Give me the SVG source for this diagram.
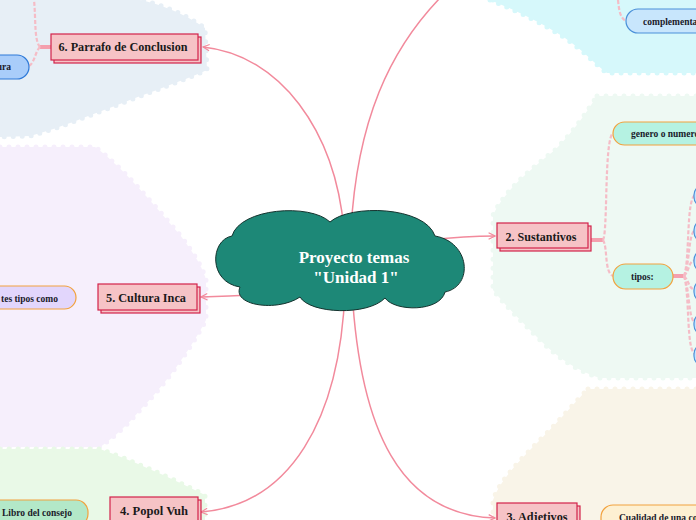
<svg xmlns="http://www.w3.org/2000/svg" width="696" height="520" viewBox="0 0 696 520">
<style>
.blob{stroke-width:5;stroke-dasharray:0 9;stroke-linecap:round;stroke-linejoin:round}
.main rect{fill:#f6c3c6;stroke:#d3224a;stroke-width:1.2}
.main text{font-family:"Liberation Serif","DejaVu Serif",serif;font-weight:bold;font-size:13px;fill:#1a1a1a;text-anchor:middle}
.pill{stroke-width:1.2}
.sub{font-family:"Liberation Serif","DejaVu Serif",serif;font-weight:bold;font-size:9.5px;fill:#1a1a2a}
.con{fill:none;stroke:#f28a9c;stroke-width:1.5}
.stub{fill:none;stroke:#f4a0ae;stroke-width:4}
.dash{fill:none;stroke:#f5bcc6;stroke-width:2.2;stroke-dasharray:4 2}
.orange{stroke:#f2a23e}
</style>
<defs>
<marker id="arr" viewBox="0 0 10 10" refX="9" refY="5" markerWidth="8" markerHeight="8" markerUnits="userSpaceOnUse" orient="auto">
<path d="M1,1 L9,5 L1,9" fill="none" stroke="#f28a9c" stroke-width="1.5"/>
</marker>
</defs>

<g id="backgrounds">
<path class="blob" fill="#e7eff6" stroke="#e7eff6" d="M0,0 L140,0 C160,4 185,14 205,28 L207,70 C180,82 150,92 120,104 C90,115 60,128 30,136 L0,137 Z"/>
<path class="blob" fill="#d6f8fb" stroke="#d6f8fb" d="M490,0 C520,12 545,25 565,38 C585,52 595,64 607,73 L696,73 L696,0 Z"/>
<path class="blob" fill="#eef9f3" stroke="#eef9f3" d="M597,96 L696,96 L696,378 L600,378 C580,372 560,360 540,340 C520,320 505,305 493,290 L493,215 C505,190 530,170 555,150 C575,130 588,110 597,96 Z"/>
<path class="blob" fill="#f9f4e8" stroke="#f9f4e8" d="M588,389 L696,389 L696,520 L493,520 L493,500 C500,480 520,460 540,440 C560,420 575,402 588,389 Z"/>
<path class="blob" fill="#f6effc" stroke="#f6effc" d="M0,147 L95,147 C120,165 150,200 180,235 C195,255 203,268 206,280 L206,320 C190,350 165,385 140,410 C125,428 110,440 100,447 L0,447 Z"/>
<path class="blob" fill="#e9f9e7" stroke="#e9f9e7" d="M0,449 L100,449 C130,460 165,475 205,495 L205,520 L0,520 Z"/>
</g>

<g id="connectors">
<path class="con" d="M344,230 C335,130 280,55 203,47" marker-end="url(#arr)"/>
<path class="con" d="M351,230 C357,120 390,50 440,-2"/>
<path class="con" d="M430,240 C465,236 480,236 495,236" marker-end="url(#arr)"/>
<path class="con" d="M290,293 C255,295 230,296 201,297" marker-end="url(#arr)"/>
<path class="con" d="M345,290 C340,420 290,505 201,512" marker-end="url(#arr)"/>
<path class="con" d="M352,290 C360,430 400,515 495,518" marker-end="url(#arr)"/>
<path class="stub" d="M51,47 L40,47"/>
<path class="dash" d="M40,47 C34,40 36,20 34,0"/>
<path class="dash" d="M40,47 C35,52 35,62 29,66"/>
<path class="dash" d="M618,0 C619,10 620,18 626,21"/>
<path class="stub" d="M591,240 L603,240"/>
<path class="dash" d="M603,240 C608,232 604,140 613,133"/>
<path class="dash" d="M603,240 C608,248 604,272 613,276"/>
<path class="stub" d="M673,276 L684,276"/>
<path class="dash" d="M684,276 C690,260 686,200 695,195"/>
<path class="dash" d="M684,276 C690,265 688,234 695,230"/>
<path class="dash" d="M684,276 C690,270 688,262 695,260"/>
<path class="dash" d="M684,276 C690,282 688,288 695,290"/>
<path class="dash" d="M684,276 C690,290 688,318 695,323"/>
<path class="dash" d="M684,276 C690,295 686,350 695,354"/>
</g>

<g id="center">
<path fill="#1d8877" stroke="#14332e" stroke-width="1" d="M232,236 C240,208 310,203 330,222 C350,204 425,206 435,236 C470,242 474,286 445,292 C440,312 395,312 385,298 C368,316 310,314 300,297 C278,312 232,306 240,287 C208,282 210,240 232,236 Z"/>
<text font-family="Liberation Serif,DejaVu Serif,serif" font-weight="bold" font-size="17" fill="#ffffff" text-anchor="middle" x="354" y="263">Proyecto temas</text>
<text font-family="Liberation Serif,DejaVu Serif,serif" font-weight="bold" font-size="17" fill="#ffffff" text-anchor="middle" x="356" y="283">"Unidad 1"</text>
</g>

<g id="n6" class="main">
<rect x="54" y="37" width="147" height="26"/>
<rect x="51" y="34" width="147" height="26"/>
<text x="123" y="51" textLength="129" lengthAdjust="spacingAndGlyphs">6. Parrafo de Conclusion</text>
</g>
<g id="n2" class="main">
<rect x="500" y="226" width="91" height="25"/>
<rect x="497" y="223" width="91" height="25"/>
<text x="541" y="241" textLength="71" lengthAdjust="spacingAndGlyphs">2. Sustantivos</text>
</g>
<g id="n5" class="main">
<rect x="101" y="287" width="99" height="26"/>
<rect x="98" y="284" width="99" height="26"/>
<text x="146" y="302" textLength="80" lengthAdjust="spacingAndGlyphs">5. Cultura Inca</text>
</g>
<g id="n4" class="main">
<rect x="113" y="500" width="88" height="26"/>
<rect x="110" y="497" width="88" height="26"/>
<text x="154" y="515" textLength="68" lengthAdjust="spacingAndGlyphs">4. Popol Vuh</text>
</g>
<g id="n3" class="main">
<rect x="500" y="506" width="80" height="26"/>
<rect x="497" y="503" width="80" height="26"/>
<text x="537" y="521" textLength="61" lengthAdjust="spacingAndGlyphs">3. Adjetivos</text>
</g>

<g id="s-complementa">
<rect class="pill" x="626" y="9" width="110" height="24" rx="12" fill="#c8e6fc" stroke="#4a90d9"/>
<text class="sub" x="643" y="25">complementa</text>
</g>
<g id="s-ura">
<rect class="pill" x="-80" y="55" width="109" height="24" rx="12" fill="#a9cdfa" stroke="#2f7ad8"/>
<text class="sub" x="11" y="70" text-anchor="end" fill="#16304a">ura</text>
</g>
<g id="s-genero">
<rect class="pill orange" x="613" y="122" width="120" height="23" rx="11.5" fill="#b5f2e2"/>
<text class="sub" x="631" y="137">genero o numero</text>
</g>
<g id="s-tipos">
<rect class="pill orange" x="613" y="264" width="60" height="25" rx="12.5" fill="#b5f2e2"/>
<text class="sub" x="631" y="280">tipos:</text>
</g>
<g id="s-tipos-items" fill="#c8e6fc" stroke="#4a90d9" stroke-width="1.2">
<rect x="694" y="185" width="20" height="22" rx="10"/>
<rect x="694" y="220" width="20" height="22" rx="10"/>
<rect x="694" y="250" width="20" height="22" rx="10"/>
<rect x="694" y="280" width="20" height="22" rx="10"/>
<rect x="694" y="313" width="20" height="22" rx="10"/>
<rect x="694" y="344" width="20" height="22" rx="10"/>
</g>
<g id="s-tipos-como">
<rect class="pill orange" x="-60" y="286" width="136" height="23" rx="11.5" fill="#e2d6fc"/>
<text class="sub" x="58" y="302" text-anchor="end">tes tipos como</text>
</g>
<g id="s-libro">
<rect class="pill orange" x="-40" y="500" width="128" height="26" rx="12" fill="#b3e8c8"/>
<text class="sub" x="2" y="516">Libro del consejo</text>
</g>
<g id="s-cualidad">
<rect class="pill orange" x="601" y="505" width="130" height="26" rx="12" fill="#fdf0d2"/>
<text class="sub" x="619" y="521">Cualidad de una co</text>
</g>
</svg>
